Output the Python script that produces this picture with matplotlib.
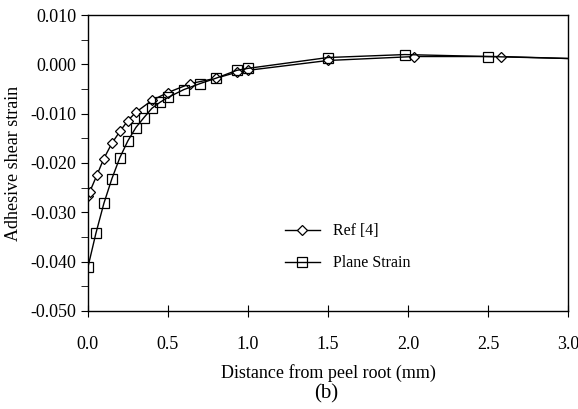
import numpy as np
import matplotlib.pyplot as plt
from matplotlib.ticker import MultipleLocator, FuncFormatter, FormatStrFormatter

plt.rcParams['font.family'] = ['Liberation Serif', 'DejaVu Serif']

# Ref [4] (diamonds)
ref_x = [0.0, 0.0125, 0.056, 0.1, 0.15, 0.2, 0.25, 0.3, 0.4, 0.5, 0.64, 0.8, 0.93, 1.0, 1.5, 2.04, 2.58]
ref_y = [-0.0266, -0.0258, -0.0225, -0.0191, -0.0160, -0.0136, -0.0114, -0.0097, -0.0073,
         -0.0057, -0.0039, -0.0028, -0.0016, -0.0012, 0.0008, 0.0016, 0.0016]

# Plane strain (squares)
ps_x = [0.0, 0.05, 0.1, 0.15, 0.2, 0.25, 0.3, 0.35, 0.4, 0.45, 0.5, 0.6, 0.7, 0.8, 0.93, 1.0, 1.5, 1.98, 2.5]
ps_y = [-0.0412, -0.0343, -0.0282, -0.0232, -0.0189, -0.0155, -0.0128, -0.0108, -0.0089,
        -0.0077, -0.0067, -0.0051, -0.0039, -0.0028, -0.0012, -0.0008, 0.0014, 0.0020, 0.0016]

# curve ends at the right edge
end_x = 3.0
end_y = 0.0012

fig = plt.figure(figsize=(5.78, 4.09), dpi=100)
ax = fig.add_axes([0.152, 0.240, 0.831, 0.723])

ax.plot(ref_x + [end_x], ref_y + [end_y], color='black', lw=1.0, marker='D', ms=5,
        mfc='white', mec='black', mew=0.9, markevery=list(range(len(ref_x))), label='Ref [4]')
ax.plot(ps_x + [end_x], ps_y + [end_y], color='black', lw=1.0, marker='s', ms=6.5,
        mfc='none', mec='black', mew=0.9, markevery=list(range(len(ps_x))), label='Plane Strain')

ax.set_xlim(0, 3.0)
ax.set_ylim(-0.050, 0.010)
ax.xaxis.set_major_locator(MultipleLocator(0.5))
ax.yaxis.set_major_locator(MultipleLocator(0.010))
ax.yaxis.set_minor_locator(MultipleLocator(0.005))
ax.xaxis.set_major_formatter(FormatStrFormatter('%.1f'))
ax.yaxis.set_major_formatter(FuncFormatter(lambda v, p: '%.3f' % (0.0 if abs(v) < 1e-9 else v)))
ax.tick_params(axis='x', direction='inout', length=8, labelsize=13, pad=14)
ax.tick_params(axis='y', which='both', direction='out', length=5, labelsize=13)
for s in ax.spines.values():
    s.set_linewidth(1.0)

ax.set_xlabel('Distance from peel root (mm)', fontsize=13, labelpad=8)
ax.set_ylabel('Adhesive shear strain', fontsize=13, labelpad=6)
fig.text(0.565, 0.025, '(b)', fontsize=15, ha='center')

ax.legend(loc='upper left', bbox_to_anchor=(0.38, 0.345), frameon=False, fontsize=11.5,
          handlelength=2.2, labelspacing=1.0)

fig.savefig('out.png', dpi=100)
